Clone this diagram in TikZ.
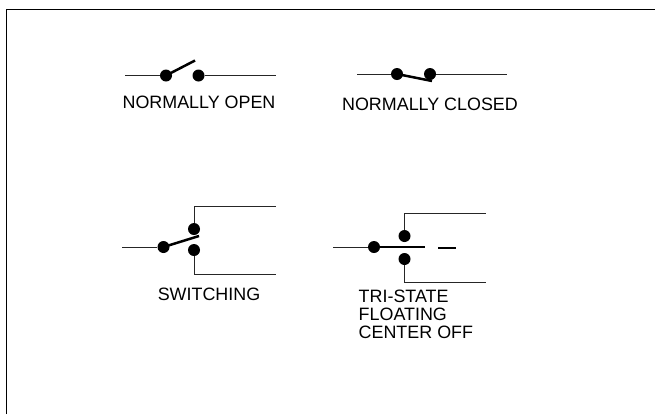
\documentclass[tikz,border=0pt]{standalone}
\usepackage{fontspec}
\setmainfont{Liberation Sans}
\tikzset{
  x=1bp,y=-1bp,
  wire/.style={line width=1bp,black!85},
  blade/.style={line width=2.5bp,black},
  contact/.style={circle,fill=black,draw=none,inner sep=0pt,minimum size=12bp},
  lab/.style={font=\fontsize{17.9bp}{17.9bp}\selectfont,inner sep=0pt,text=black},
  stack/.style={font=\fontsize{17.9bp}{18bp}\selectfont,inner sep=0pt,align=left,anchor=north west,text=black}
}
\begin{document}
\begin{tikzpicture}
\useasboundingbox (0,0) rectangle (655,414);
\fill[white] (0,0) rectangle (655,414);
\coordinate (fa) at (6.7,414);
\coordinate (fb) at (6.7,9.7);
\coordinate (fc) at (655,9.7);
\draw[line width=1.5bp] (fa) -- (fb) -- (fc);
% normally open
\node[contact] (a1) at (166,75.5) {};
\node[contact] (a2) at (198.5,75.5) {};
\coordinate (a0) at (125,75.5);
\coordinate (a3) at (276,75.5);
\coordinate (at) at (195,60.5);
\draw[wire] (a0) -- (a1);
\draw[wire] (a2) -- (a3);
\draw[blade] (a1.center) -- (at);
\node[lab] (la) at (199,102.5) {NORMALLY OPEN};
% normally closed
\node[contact] (b1) at (397,74) {};
\node[contact] (b2) at (430,74) {};
\coordinate (b0) at (357,74);
\coordinate (b3) at (507,74);
\coordinate (bt) at (432,81);
\draw[wire] (b0) -- (b1);
\draw[wire] (b2) -- (b3);
\draw[blade] (b1.center) -- (bt);
\node[lab] (lb) at (430,104) {NORMALLY CLOSED};
% switching
\node[contact] (c1) at (163.5,247) {};
\node[contact] (c2) at (194,229) {};
\node[contact] (c3) at (194,250) {};
\coordinate (c0) at (122,247);
\coordinate (ct) at (199,236);
\coordinate (c4) at (194,206);
\coordinate (c5) at (276,206);
\coordinate (c6) at (194,274);
\coordinate (c7) at (276,274);
\draw[wire] (c0) -- (c1);
\draw[wire] (c2) -- (c4) -- (c5);
\draw[wire] (c3) -- (c6) -- (c7);
\draw[blade] (c1.center) -- (ct);
\node[lab] (lc) at (209,294) {SWITCHING};
% tri-state
\node[contact] (d1) at (374,247) {};
\node[contact] (d2) at (404.5,236) {};
\node[contact] (d3) at (404.5,259) {};
\coordinate (d0) at (333,247);
\coordinate (dt) at (425,247);
\coordinate (d4) at (404.5,213);
\coordinate (d5) at (486,213);
\coordinate (d6) at (404.5,282);
\coordinate (d7) at (486,282);
\coordinate (e1) at (438,248);
\coordinate (e2) at (456,248);
\draw[wire] (d0) -- (d1);
\draw[wire] (d2) -- (d4) -- (d5);
\draw[wire] (d3) -- (d6) -- (d7);
\draw[blade] (d1.center) -- (dt);
\draw[line width=1.5bp] (e1) -- (e2);
\node[stack] (ld) at (358.5,289.5) {TRI-STATE\\FLOATING\\CENTER OFF};
\end{tikzpicture}
\end{document}
